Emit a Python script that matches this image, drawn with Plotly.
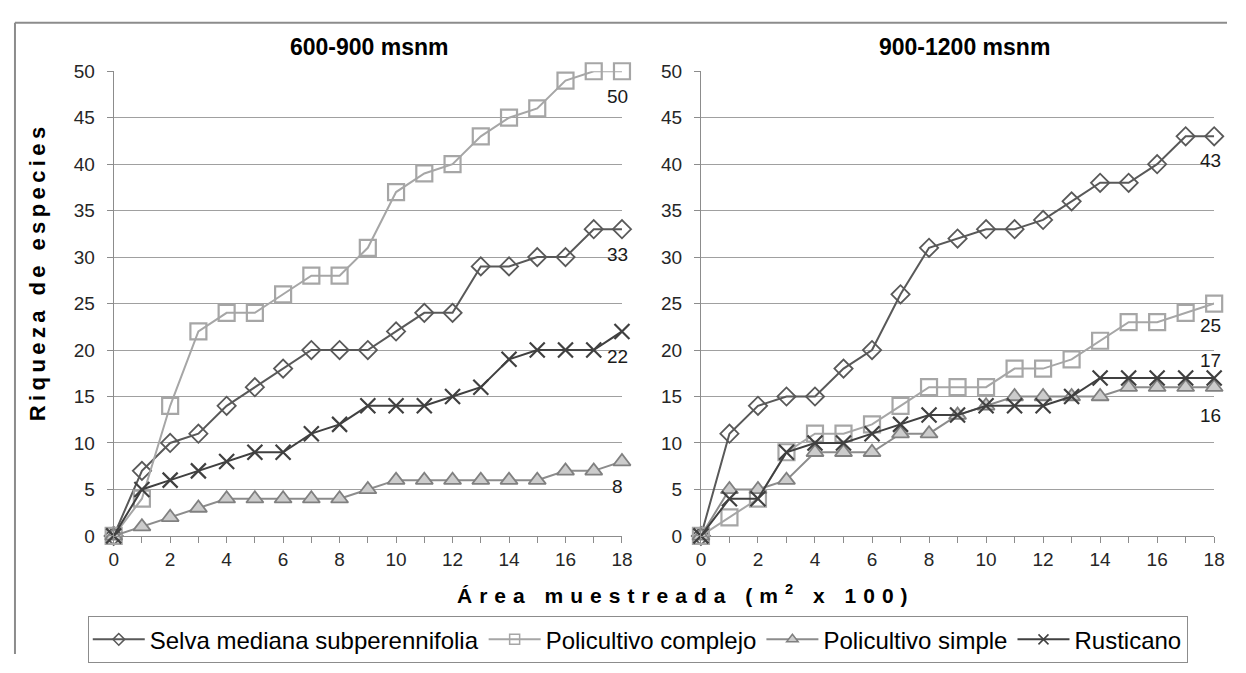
import plotly.graph_objects as go

# ---------------- data ----------------
area = list(range(19))
x_tick_vals = list(range(0, 19, 2))
y_tick_vals = list(range(0, 51, 5))

panel_titles = ["600-900 msnm", "900-1200 msnm"]
series_names = ["Selva mediana subperennifolia", "Policultivo complejo",
                "Policultivo simple", "Rusticano"]
y_title = "Riqueza de especies"
x_title_main = "Área muestreada (m"
x_title_sup = "2"
x_title_end = " x 100)"

selva_600 = [0, 7, 10, 11, 14, 16, 18, 20, 20, 20, 22, 24, 24, 29, 29, 30, 30, 33, 33]
complejo_600 = [0, 4, 14, 22, 24, 24, 26, 28, 28, 31, 37, 39, 40, 43, 45, 46, 49, 50, 50]
simple_600 = [0, 1, 2, 3, 4, 4, 4, 4, 4, 5, 6, 6, 6, 6, 6, 6, 7, 7, 8]
rusticano_600 = [0, 5, 6, 7, 8, 9, 9, 11, 12, 14, 14, 14, 15, 16, 19, 20, 20, 20, 22]

selva_900 = [0, 11, 14, 15, 15, 18, 20, 26, 31, 32, 33, 33, 34, 36, 38, 38, 40, 43, 43]
complejo_900 = [0, 2, 4, 9, 11, 11, 12, 14, 16, 16, 16, 18, 18, 19, 21, 23, 23, 24, 25]
simple_900 = [0, 5, 5, 6, 9, 9, 9, 11, 11, 13, 14, 15, 15, 15, 15, 16, 16, 16, 16]
rusticano_900 = [0, 4, 4, 9, 10, 10, 11, 12, 13, 13, 14, 14, 14, 15, 17, 17, 17, 17, 17]

panels = [
    [selva_600, complejo_600, simple_600, rusticano_600],
    [selva_900, complejo_900, simple_900, rusticano_900],
]

# ---------------- geometry / styles ----------------
PAGE_W, PAGE_H = 1246, 673
BODY_MARGIN = 8                      # default body margin of the html page
W, H = PAGE_W - 2 * BODY_MARGIN, PAGE_H - 2 * BODY_MARGIN
SANS = "Liberation Sans, Arial, sans-serif"

# vertical pixel offset of the end-value label of each series (neg = below)
label_shift = [
    [-25, -25, -25, -25],
    [-24, -22, -28, 17],
]


def px_x(p):
    """reference page pixel -> paper fraction"""
    return (p - BODY_MARGIN) / W


def px_y(p):
    return 1 - (p - BODY_MARGIN) / H


def spaced(text, sep):
    return sep.join(list(text))


line_styles = [
    dict(color="#595959", width=2),
    dict(color="#a6a6a6", width=2),
    dict(color="#8c8c8c", width=2),
    dict(color="#404040", width=2),
]
marker_styles = [
    dict(symbol="diamond-open", size=14, color="#595959",
         line=dict(width=1.8, color="#595959")),
    dict(symbol="square-open", size=16, color="#a6a6a6",
         line=dict(width=2.2, color="#a6a6a6")),
    dict(symbol="triangle-up", size=15, color="#cccccc",
         line=dict(width=1.8, color="#808080")),
    dict(symbol="x-thin-open", size=15, color="#404040",
         line=dict(width=2.2, color="#404040")),
]
legend_marker_size = [9, 10, 10, 10]

fig = go.Figure()

for pi, panel in enumerate(panels):
    xa = "x" if pi == 0 else "x2"
    ya = "y" if pi == 0 else "y2"
    for si, vals in enumerate(panel):
        fig.add_trace(go.Scatter(
            x=area, y=vals, mode="lines+markers",
            name=series_names[si], showlegend=False,
            legendgroup=series_names[si],
            xaxis=xa, yaxis=ya, cliponaxis=False,
            line=line_styles[si], marker=marker_styles[si]))
        fig.add_annotation(
            x=area[-1], y=vals[-1], xref=xa, yref=ya,
            text=str(vals[-1]), showarrow=False,
            yshift=label_shift[pi][si], xshift=-4,
            xanchor="center", yanchor="middle",
            font=dict(family=SANS, size=19, color="#1a1a1a"))

# legend entries (smaller symbols, as in the original legend)
for si, name in enumerate(series_names):
    m = dict(marker_styles[si])
    m["size"] = legend_marker_size[si]
    m["line"] = dict(width=1.5, color=m["line"]["color"])
    fig.add_trace(go.Scatter(
        x=[None], y=[None], mode="lines+markers", name=name,
        legendgroup=name, showlegend=True,
        line=line_styles[si], marker=m))

axis_common = dict(
    showline=True, linecolor="#8c8c8c", linewidth=1,
    tickfont=dict(family=SANS, size=19, color="#262626"),
    ticks="outside", tickcolor="#8c8c8c", ticklen=6, zeroline=False,
)
x_common = dict(axis_common, range=[0, 18], tickvals=x_tick_vals,
                showgrid=False,
                minor=dict(tickvals=area, ticks="outside", ticklen=6,
                           tickcolor="#8c8c8c"))
y_common = dict(axis_common, range=[0, 50], tickvals=y_tick_vals,
                showgrid=True, gridcolor="#a0a0a0", gridwidth=1,
                ticklabelstandoff=8)

fig.update_layout(
    width=W, height=H,
    margin=dict(l=0, r=0, t=0, b=0),
    paper_bgcolor="white", plot_bgcolor="white",
    xaxis=dict(x_common, domain=[px_x(110), px_x(625)], anchor="y"),
    yaxis=dict(y_common, domain=[px_y(543), px_y(63)], anchor="x"),
    xaxis2=dict(x_common, domain=[px_x(705), px_x(1225)], anchor="y2"),
    yaxis2=dict(y_common, domain=[px_y(543), px_y(63)], anchor="x2"),
    legend=dict(orientation="h", x=px_x(641), xanchor="center",
                y=px_y(626), yanchor="top",
                bordercolor="#8c8c8c", borderwidth=1,
                font=dict(family=SANS, size=24, color="#000000"),
                itemwidth=52, tracegroupgap=0),
    showlegend=True,
)

# panel titles
for t, cx in zip(panel_titles, [369, 972]):
    fig.add_annotation(x=px_x(cx), y=px_y(38), xref="paper", yref="paper",
                       text="<b>%s</b>" % t, showarrow=False,
                       xanchor="center", yanchor="middle",
                       font=dict(family=SANS, size=23, color="#000000"))

# axis titles (letter-spaced)
THIN = "\u2009"
THREE_PER_EM = "\u2004"
fig.add_annotation(x=px_x(33), y=px_y(272), xref="paper", yref="paper",
                   text="<b>%s</b>" % spaced(y_title, THIN),
                   textangle=-90, showarrow=False,
                   xanchor="center", yanchor="middle",
                   font=dict(family=SANS, size=22, color="#000000"))
x_title = (spaced(x_title_main, THREE_PER_EM) + THREE_PER_EM + "<sup>"
           + x_title_sup + "</sup>" + THREE_PER_EM
           + spaced(x_title_end, THREE_PER_EM))
fig.add_annotation(x=px_x(686), y=px_y(603), xref="paper", yref="paper",
                   text="<b>%s</b>" % x_title,
                   showarrow=False, xanchor="center", yanchor="middle",
                   font=dict(family=SANS, size=21, color="#000000"))

# outer chart frame (top and left edges visible)
fig.add_shape(type="line", xref="paper", yref="paper",
              x0=px_x(10), x1=1.0, y0=px_y(13), y1=px_y(13),
              line=dict(color="#8c8c8c", width=2))
fig.add_shape(type="line", xref="paper", yref="paper",
              x0=px_x(10), x1=px_x(10), y0=px_y(13), y1=0,
              line=dict(color="#8c8c8c", width=2))

fig.write_html("out.html", config={"displayModeBar": False})
